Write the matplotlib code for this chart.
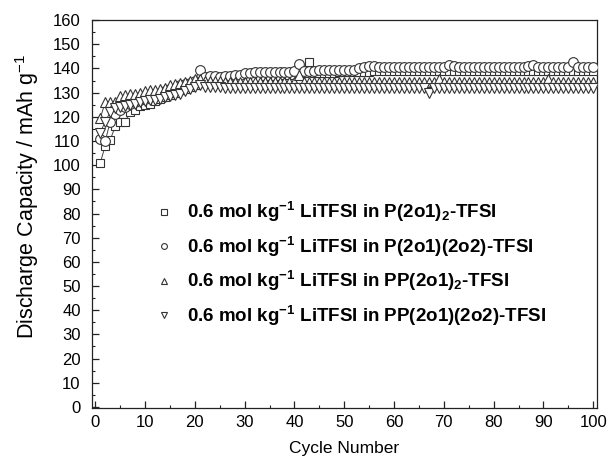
import matplotlib
matplotlib.use("Agg")
import matplotlib.pyplot as plt
import numpy as np

cycles = list(range(1, 101))

# P(2o1)2-TFSI (squares)
cap_sq = [101, 108, 110.5, 116, 118, 118, 122, 123, 124.5, 125, 125.5, 126.5, 127.5, 128, 129, 130, 131, 131.5, 132.5, 133,
          134, 134, 134.5, 135, 135, 135.5, 135.5, 136, 136, 136, 136.5, 136.5, 136.5, 137, 137, 137, 137, 137.5, 137.5, 137.5,
          137.5, 138, 142.5, 138, 138, 138, 138, 138, 138.5, 138.5, 138.5, 138.5, 138.5, 138.5, 138.5, 139, 139, 139, 139, 139,
          139, 139, 139, 139, 139, 139, 139, 139, 139, 139, 139, 139, 139, 139, 139, 139, 139, 139, 139, 139,
          139, 139, 139, 139, 139, 139, 139, 139, 139, 139, 139, 139, 139, 139, 139, 139, 139, 139, 139, 139]

# P(2o1)(2o2)-TFSI (circles)
cap_ci = [111, 110, 118, 121, 123, 124, 125.5, 126, 127, 127.5, 128, 129, 130, 130.5, 131.5, 132, 133, 133.5, 134, 135,
          139.5, 136.5, 137, 137, 136.5, 137, 137, 137.5, 137.5, 138, 138, 138.5, 138.5, 138.5, 138.5, 138.5, 138.5, 138.5, 138.5, 139,
          142, 139, 139, 139, 139.5, 139.5, 139.5, 139.5, 139.5, 139.5, 139.5, 139.5, 140, 140.5, 141, 141, 140.5, 140.5, 140.5, 140.5,
          140.5, 140.5, 140.5, 140.5, 140.5, 140.5, 140.5, 140.5, 140.5, 140.5, 141.5, 141, 140.5, 140.5, 140.5, 140.5, 140.5, 140.5, 140.5, 140.5,
          140.5, 140.5, 140.5, 140.5, 140.5, 140.5, 141, 141.5, 140.5, 140.5, 140.5, 140.5, 140.5, 140.5, 140.5, 142.5, 140.5, 140.5, 140.5, 140.5]

# PP(2o1)2-TFSI (up triangles)
cap_tu = [119.5, 126, 126, 126, 128.5, 129, 129.5, 129.5, 130, 130.5, 131, 131, 131.5, 132, 133, 133.5, 134, 134.5, 135, 135.5,
          135.5, 135, 135, 135, 135, 134.5, 134.5, 134.5, 134.5, 134.5, 134.5, 134.5, 134.5, 134.5, 134.5, 134.5, 134.5, 134.5, 134.5, 134.5,
          137.5, 134.5, 134.5, 134.5, 134.5, 134.5, 134.5, 134.5, 134.5, 134.5, 134.5, 134.5, 134.5, 134.5, 134.5, 134.5, 134.5, 134.5, 134.5, 134.5,
          134.5, 134.5, 134.5, 134.5, 134.5, 134.5, 134.5, 134.5, 135.5, 134.5, 134.5, 134.5, 134.5, 134.5, 134.5, 134.5, 134.5, 134.5, 134.5, 134.5,
          134.5, 134.5, 134.5, 134.5, 134.5, 134.5, 134.5, 134.5, 134.5, 134.5, 135.5, 134.5, 134.5, 134.5, 134.5, 134.5, 134.5, 134.5, 134.5, 134.5]

# PP(2o1)(2o2)-TFSI (down triangles)
cap_td = [113.5, 118, 122, 123.5, 124, 124.5, 125, 125.5, 126, 126.5, 127, 127, 127.5, 128, 128.5, 129, 129.5, 130.5, 131.5, 132.5,
          133, 132.5, 132.5, 132.5, 132.5, 132, 132, 132, 132, 132, 132, 132, 132, 132, 132, 132, 132, 132, 132, 132,
          132, 132, 132, 132, 132, 132, 132, 132, 132, 132, 132, 132, 132, 132, 132, 132, 132, 132, 132, 132,
          132, 132, 132, 132, 132, 132, 130, 132, 132, 132, 132, 132, 132, 132, 132, 132, 132, 132, 132, 132,
          132, 132, 132, 132, 132, 132, 132, 132, 132, 132, 132, 132, 132, 132, 132, 132, 132, 132, 132, 132]

labels = [r'0.6 mol kg$^{\mathbf{-1}}$ LiTFSI in P(2o1)$_{\mathbf{2}}$-TFSI',
          r'0.6 mol kg$^{\mathbf{-1}}$ LiTFSI in P(2o1)(2o2)-TFSI',
          r'0.6 mol kg$^{\mathbf{-1}}$ LiTFSI in PP(2o1)$_{\mathbf{2}}$-TFSI',
          r'0.6 mol kg$^{\mathbf{-1}}$ LiTFSI in PP(2o1)(2o2)-TFSI']

plt.rcParams['font.family'] = ['Liberation Sans', 'DejaVu Sans']
plt.rcParams['mathtext.fontset'] = 'custom'
plt.rcParams['mathtext.rm'] = 'Liberation Sans'
plt.rcParams['mathtext.bf'] = 'Liberation Sans:bold'
plt.rcParams['mathtext.it'] = 'Liberation Sans:italic'

fig = plt.figure(figsize=(6.12, 4.58), dpi=100)
ax = fig.add_axes([0.150, 0.109, 0.825, 0.847])

ec = '#333333'
series = [(cap_sq, 's', 6.2), (cap_ci, 'o', 7), (cap_tu, '^', 7.5), (cap_td, 'v', 7.5)]
handles = []
for (vals, m, ms), lab in zip(series, labels):
    ax.plot(cycles, vals, '-', color='#444444', lw=0.7, zorder=2)
    h, = ax.plot(cycles, vals, linestyle='none', marker=m, ms=ms, mfc='white', mec=ec, mew=0.8, zorder=3, label=lab)
    handles.append(h)

ax.set_xlim(-0.7, 100.7)
ax.set_ylim(-0.5, 160)
ax.set_xticks(range(0, 101, 10))
ax.set_xticks(range(0, 101, 5), minor=True)
ax.set_yticks(range(0, 161, 10))
ax.set_yticks(range(0, 161, 5), minor=True)
ax.tick_params(which='both', direction='in', top=False, right=False, labelsize=12, color='#222222')
ax.tick_params(which='major', length=5, width=0.9)
ax.tick_params(which='minor', length=2.5, width=0.8)
ax.tick_params(axis='x', pad=5)
ax.tick_params(axis='y', pad=8)
for s in ax.spines.values():
    s.set_linewidth(0.9)
    s.set_color('#222222')

ax.set_xlabel('Cycle Number', fontsize=12.5, labelpad=8)
ax.set_ylabel(r'Discharge Capacity / mAh g$^{\mathregular{-1}}$', fontsize=15.5)
ax.yaxis.set_label_coords(-0.100, 0.545)

leg = ax.legend(handles=handles, loc='upper left', bbox_to_anchor=(0.11, 0.555), frameon=False,
                prop={'weight': 'bold', 'size': 13.5}, markerscale=0.6, handlelength=1.0,
                handletextpad=0.7, labelspacing=0.55, borderaxespad=0)

fig.savefig('out.png', dpi=100)
